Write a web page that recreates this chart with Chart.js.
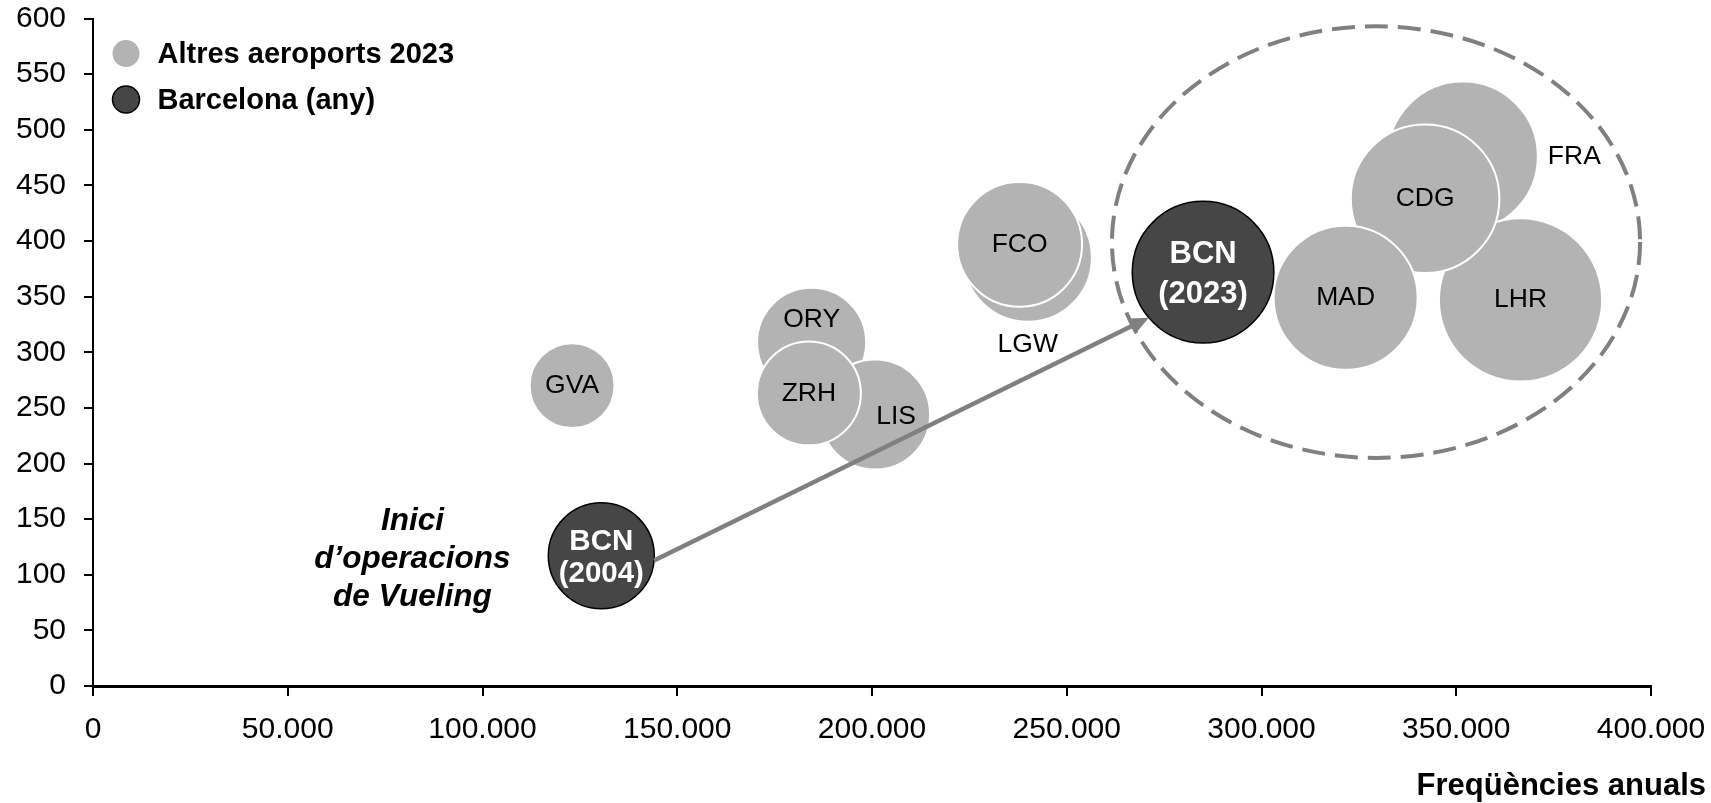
<!DOCTYPE html>
<html lang="ca">
<head>
<meta charset="utf-8">
<title>Freqüències anuals</title>
<script src="https://cdn.jsdelivr.net/npm/chart.js@4.4.1/dist/chart.umd.min.js"></script>
<style>
  html, body { margin: 0; padding: 0; background: #fff; }
  #wrap { width: 1711px; height: 803px; position: relative; }
</style>
</head>
<body>
<div id="wrap"><canvas id="chart"></canvas></div>
<script>
// Altres aeroports 2023
const aeroports = ['GVA', 'ORY', 'LIS', 'ZRH', 'LGW', 'FCO', 'FRA', 'LHR', 'CDG', 'MAD'];
const freqAeroports = [123000, 184500, 200800, 183800, 240000, 237900, 351700, 366500, 342000, 321600];
const valorAeroports = [270, 309, 244, 263, 385, 397, 476, 347, 438, 349];
const midaAeroports = [18, 29.7, 30.2, 27, 41, 39, 56.2, 66.6, 55.2, 51.8];

// Barcelona (any)
const anysBcn = ['2004', '2023'];
const freqBcn = [130500, 285000];
const valorBcn = [117, 372];
const midaBcn = [28.1, 50.1];

// eixos
const ticksX = [0, 50000, 100000, 150000, 200000, 250000, 300000, 350000, 400000];
const ticksY = [0, 50, 100, 150, 200, 250, 300, 350, 400, 450, 500, 550, 600];

// el·lipse que agrupa els grans aeroports (unitats de les dades)
const grupGrans = { x: 329400, y: 399, rx: 67800, ry: 194 };

const FONT = '"Liberation Sans", Arial, Helvetica, sans-serif';
const GRIS = '#b3b3b3';
const FOSC = '#464646';
const GRIS_LINIA = '#808080';

// on va l'etiqueta de cada bombolla si no va al centre
const posEtiqueta = { ORY: [0, -23], LIS: [21, 2], LGW: 'sota', FRA: 'dreta' };
const etiquetaBcn = [
  { mida: 29.5, d1: -14, d2: 18 },
  { mida: 31, d1: -18, d2: 22 }
];

function fmt(v) {
  return String(v).replace(/\B(?=(\d{3})+(?!\d))/g, '.');
}

function radi(m) {
  return 10 * Math.sqrt(m);
}

const dibuix = {
  id: 'dibuix',
  afterDatasetsDraw(chart) {
    const { ctx, chartArea: area, scales: { x, y } } = chart;
    const gris = chart.getDatasetMeta(0).data;
    const bcn = chart.getDatasetMeta(1).data;
    ctx.save();

    // el·lipse discontínua
    const cx = x.getPixelForValue(grupGrans.x);
    const cy = y.getPixelForValue(grupGrans.y);
    const rx = x.getPixelForValue(grupGrans.x + grupGrans.rx) - cx;
    const ry = cy - y.getPixelForValue(grupGrans.y + grupGrans.ry);
    ctx.setLineDash([23, 10]);
    ctx.lineWidth = 4;
    ctx.strokeStyle = GRIS_LINIA;
    ctx.beginPath();
    ctx.ellipse(cx, cy, rx, ry, 0, 0, Math.PI * 2);
    ctx.stroke();
    ctx.setLineDash([]);

    // fletxa BCN 2004 -> BCN 2023
    const a = bcn[0], b = bcn[1];
    const ra = a.options.radius, rb = b.options.radius;
    const g = Math.PI / 180;
    const x0 = a.x + ra * Math.cos(5 * g), y0 = a.y + ra * Math.sin(5 * g);
    const x1 = b.x + rb * Math.cos(140 * g), y1 = b.y + rb * Math.sin(140 * g);
    const ang = Math.atan2(y1 - y0, x1 - x0);
    const cs = Math.cos(ang), sn = Math.sin(ang);
    const cap = 18, ample = 8;
    ctx.strokeStyle = GRIS_LINIA;
    ctx.fillStyle = GRIS_LINIA;
    ctx.lineWidth = 4.5;
    ctx.beginPath();
    ctx.moveTo(x0, y0);
    ctx.lineTo(x1 - cap * 0.8 * cs, y1 - cap * 0.8 * sn);
    ctx.stroke();
    ctx.beginPath();
    ctx.moveTo(x1, y1);
    ctx.lineTo(x1 - cap * cs + ample * sn, y1 - cap * sn - ample * cs);
    ctx.lineTo(x1 - cap * cs - ample * sn, y1 - cap * sn + ample * cs);
    ctx.closePath();
    ctx.fill();

    // etiquetes dels altres aeroports
    ctx.font = `26.5px ${FONT}`;
    ctx.fillStyle = '#000';
    ctx.textBaseline = 'middle';
    gris.forEach((el, i) => {
      const codi = aeroports[i];
      const r = el.options.radius;
      const p = posEtiqueta[codi];
      let tx = el.x, ty = el.y;
      ctx.textAlign = 'center';
      if (p === 'sota') ty = el.y + r + 23;
      else if (p === 'dreta') { tx = el.x + r + 10; ctx.textAlign = 'left'; }
      else if (p) { tx += p[0]; ty += p[1]; }
      ctx.fillText(codi, tx, ty);
    });

    // etiquetes de Barcelona
    ctx.fillStyle = '#fff';
    ctx.textAlign = 'center';
    bcn.forEach((el, i) => {
      const e = etiquetaBcn[i];
      ctx.font = `bold ${e.mida}px ${FONT}`;
      ctx.fillText('BCN', el.x, el.y + e.d1);
      ctx.fillText(`(${anysBcn[i]})`, el.x, el.y + e.d2);
    });

    // text d'inici de Vueling
    ctx.fillStyle = '#000';
    ctx.font = `italic bold 31.5px ${FONT}`;
    ctx.textBaseline = 'alphabetic';
    const ix = x.getPixelForValue(82000);
    ctx.fillText('Inici', ix, a.y - 25.5);
    ctx.fillText('d\u2019operacions', ix, a.y + 12.5);
    ctx.fillText('de Vueling', ix, a.y + 50);

    // llegenda
    const lx = area.left + 33;
    const files = [
      { y: area.top + 35, color: GRIS, vora: null, text: 'Altres aeroports 2023' },
      { y: area.top + 81, color: FOSC, vora: '#000', text: 'Barcelona (any)' }
    ];
    ctx.font = `bold 29px ${FONT}`;
    ctx.textAlign = 'left';
    ctx.textBaseline = 'middle';
    files.forEach(f => {
      ctx.beginPath();
      ctx.arc(lx, f.y, 13.5, 0, Math.PI * 2);
      ctx.fillStyle = f.color;
      ctx.fill();
      if (f.vora) {
        ctx.lineWidth = 1.5;
        ctx.strokeStyle = f.vora;
        ctx.stroke();
      }
      ctx.fillStyle = '#000';
      ctx.fillText(f.text, area.left + 64.5, f.y + 1);
    });

    // títol de l'eix x
    ctx.font = `bold 31px ${FONT}`;
    ctx.textAlign = 'right';
    ctx.textBaseline = 'alphabetic';
    ctx.fillText('Freqüències anuals', chart.width - 5, chart.height - 8);

    ctx.restore();
  }
};

const ctx = document.getElementById('chart').getContext('2d');

new Chart(ctx, {
  type: 'bubble',
  data: {
    datasets: [
      {
        label: 'Altres aeroports 2023',
        data: aeroports.map((c, i) => ({ x: freqAeroports[i], y: valorAeroports[i], r: radi(midaAeroports[i]) })),
        backgroundColor: GRIS,
        borderColor: '#fff',
        borderWidth: 2,
        order: 2
      },
      {
        label: 'Barcelona (any)',
        data: anysBcn.map((a, i) => ({ x: freqBcn[i], y: valorBcn[i], r: radi(midaBcn[i]) })),
        backgroundColor: FOSC,
        borderColor: '#000',
        borderWidth: 1.5,
        order: 1
      }
    ]
  },
  options: {
    responsive: true,
    maintainAspectRatio: false,
    animation: false,
    events: [],
    layout: { autoPadding: false, padding: { top: 18.5, right: 60, left: 0, bottom: 0 } },
    plugins: {
      legend: { display: false },
      tooltip: { enabled: false }
    },
    scales: {
      x: {
        type: 'linear',
        min: 0,
        max: 400000,
        afterBuildTicks: s => { s.ticks = ticksX.map(v => ({ value: v })); },
        afterFit: s => { s.height = 117; s.paddingLeft = 0; s.paddingRight = 0; },
        border: { display: true, color: '#000', width: 3 },
        grid: { display: true, drawOnChartArea: false, drawTicks: true, tickLength: 10, color: '#000', lineWidth: 2 },
        ticks: {
          color: '#000',
          font: { family: FONT, size: 30 },
          padding: 16,
          maxRotation: 0,
          autoSkip: false,
          callback: v => fmt(v)
        }
      },
      y: {
        type: 'linear',
        min: 0,
        max: 600,
        afterBuildTicks: s => { s.ticks = ticksY.map(v => ({ value: v })); },
        afterFit: s => { s.width = 93; s.paddingTop = 0; s.paddingBottom = 0; },
        border: { display: true, color: '#000', width: 2 },
        grid: { display: true, drawOnChartArea: false, drawTicks: true, tickLength: 9, color: '#000', lineWidth: 2 },
        ticks: {
          color: '#000',
          font: { family: FONT, size: 30 },
          padding: 18,
          autoSkip: false,
          callback: v => fmt(v)
        }
      }
    }
  },
  plugins: [dibuix]
});
</script>
</body>
</html>
